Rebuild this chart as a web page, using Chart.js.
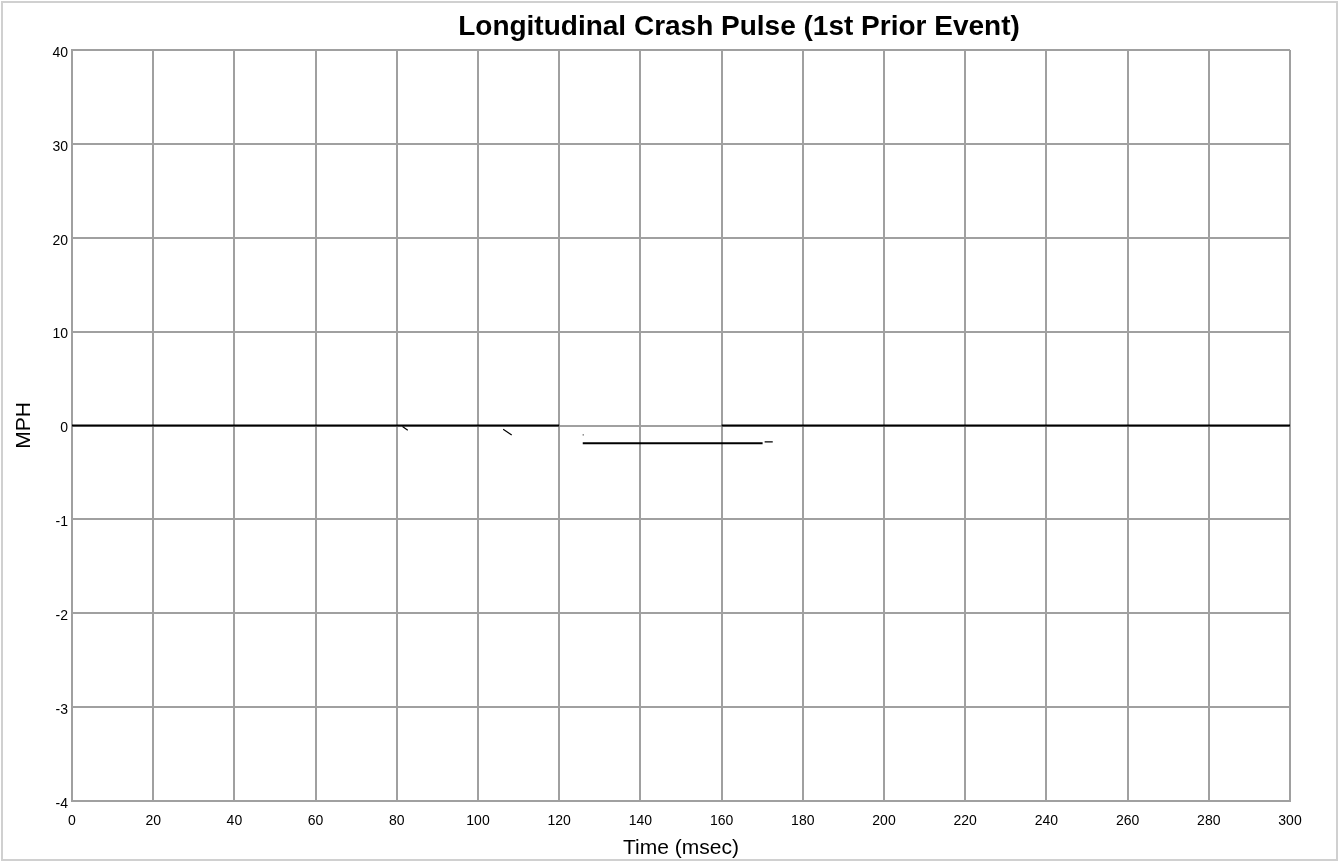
<!DOCTYPE html>
<html>
<head>
<meta charset="utf-8">
<script src="https://cdn.jsdelivr.net/npm/chart.js@4/dist/chart.umd.min.js"></script>
<style>
  body { margin: 0; background: #fff; }
  .wrap { position: relative; width: 1339px; height: 862px; }
  .frame {
    position: absolute; left: 1px; top: 1px; width: 1337px; height: 860px;
    box-sizing: border-box; border: 2px solid #d0d0d0; pointer-events: none;
  }
</style>
</head>
<body>
<div class="wrap">
  <canvas id="chart"></canvas>
  <div class="frame"></div>
</div>
<script>
// time axis ticks (msec)
const xTicks = [0, 20, 40, 60, 80, 100, 120, 140, 160, 180, 200, 220, 240, 260, 280, 300];
// y tick labels, bottom to top (the axis is not linear above 0)
const yTickLabels = ["-4", "-3", "-2", "-1", "0", "10", "20", "30", "40"];

// main trace, broken between 120 and 160 ms
const mainTime = [0, 120, 140, 160, 300];
const mainMph = [0, 0, null, 0, 0];

// offset piece below zero
const lowTime = [125.8, 170.1];
const lowMph = [-0.19, -0.19];

// small stray marks
const strayTime = [81.4, 82.7, 95, 106.2, 108.3, 117, 125.8, 126.0, 150, 170.6, 172.6];
const strayMph = [-0.01, -0.05, null, -0.04, -0.10, null, -0.10, -0.10, null, -0.175, -0.175];

const titleText = "Longitudinal Crash Pulse (1st Prior Event)";

const toPoints = (xs, ys) => xs.map((x, i) => ({ x: x, y: ys[i] }));

const titlePlugin = {
  id: "titleText",
  afterDraw(chart) {
    const ctx = chart.ctx;
    ctx.save();
    ctx.font = "bold 28px 'Liberation Sans', Arial, sans-serif";
    ctx.fillStyle = "#000";
    ctx.textAlign = "center";
    ctx.textBaseline = "alphabetic";
    ctx.fillText(titleText, 739, 35);
    ctx.restore();
  },
};

const gridColor = "#a0a0a0";
const tickFont = { family: "'Liberation Sans', Arial, sans-serif", size: 14 };
const axisFont = { family: "'Liberation Sans', Arial, sans-serif", size: 21 };

new Chart(document.getElementById("chart"), {
  type: "line",
  data: {
    datasets: [
      {
        data: toPoints(mainTime, mainMph),
        borderColor: "#000",
        borderWidth: 2,
        pointRadius: 0,
        spanGaps: false,
      },
      {
        data: toPoints(lowTime, lowMph),
        borderColor: "#000",
        borderWidth: 2,
        pointRadius: 0,
      },
      {
        data: toPoints(strayTime, strayMph),
        borderColor: "#000",
        borderWidth: 1.2,
        pointRadius: 0,
        spanGaps: false,
      },
    ],
  },
  options: {
    responsive: true,
    maintainAspectRatio: false,
    animation: false,
    layout: { padding: { top: 50, right: 49, bottom: 0, left: 0 } },
    plugins: {
      legend: { display: false },
      tooltip: { enabled: false },
    },
    scales: {
      x: {
        type: "linear",
        min: 0,
        max: 300,
        afterBuildTicks: (scale) => {
          scale.ticks = xTicks.map((v) => ({ value: v }));
        },
        afterFit: (scale) => {
          scale.height = 61;
        },
        grid: { color: gridColor, lineWidth: 2, drawTicks: false },
        border: { color: gridColor, width: 2 },
        ticks: { color: "#000", font: tickFont, padding: 12, maxRotation: 0 },
        title: {
          display: true,
          text: "Time (msec)",
          color: "#000",
          font: axisFont,
          padding: { top: 0, bottom: 1 },
        },
      },
      y: {
        type: "linear",
        min: -4,
        max: 4,
        afterFit: (scale) => {
          scale.width = 72;
        },
        grid: { color: gridColor, lineWidth: 2, drawTicks: false },
        border: { color: gridColor, width: 2 },
        ticks: {
          stepSize: 1,
          color: "#000",
          font: tickFont,
          padding: 4,
          labelOffset: 3,
          callback: (value, index) => yTickLabels[index],
        },
        title: {
          display: true,
          text: "MPH",
          color: "#000",
          font: axisFont,
          padding: { top: 12, bottom: 0 },
        },
      },
    },
  },
  plugins: [titlePlugin],
});
</script>
</body>
</html>
